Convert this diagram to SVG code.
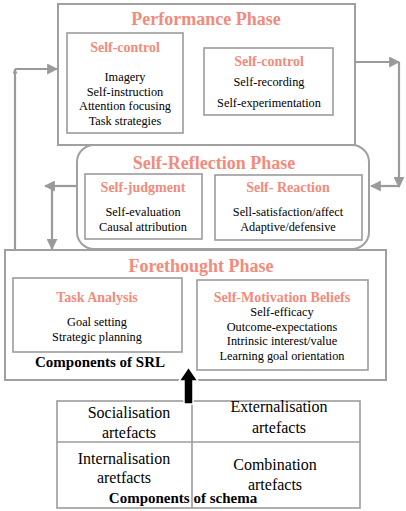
<svg xmlns="http://www.w3.org/2000/svg" width="406" height="511" viewBox="0 0 406 511">
<defs>
<style>
.box{fill:none;stroke:#9c9c9c;stroke-width:1.6}
.frame{fill:#fff;stroke:#a0a0a0;stroke-width:2}
.conn{fill:none;stroke:#9a9a9a;stroke-width:2.2}
.t{font-family:"Liberation Serif","Times New Roman",serif;text-anchor:middle}
.ph{font-size:18px;font-weight:bold;fill:#f28b7b}
.sub{font-size:14px;font-weight:bold;fill:#f28b7b}
.body{font-size:12.3px;fill:#000}
.tab{font-size:16px;fill:#000}
.lab{font-size:15px;font-weight:bold;fill:#000}
</style>
<marker id="ah" viewBox="0 0 10 10" refX="9" refY="5" markerWidth="5" markerHeight="5" orient="auto" markerUnits="userSpaceOnUse">
<path d="M0,0 L10,5 L0,10 z" fill="#9a9a9a"/>
</marker>
<marker id="ahg" viewBox="0 0 10 10" refX="9" refY="5" markerWidth="11" markerHeight="11" orient="auto" markerUnits="userSpaceOnUse">
<path d="M0,0 L10,5 L0,10 z" fill="#9a9a9a"/>
</marker>
</defs>
<rect width="406" height="511" fill="#fff"/>

<g id="forethought">
<rect class="frame" x="5" y="250" width="381" height="130"/>
<text class="t ph" x="201" y="272">Forethought Phase</text>
<rect class="box" x="13" y="278" width="169" height="74"/>
<text class="t sub" x="97" y="302">Task Analysis</text>
<text class="t body" x="97" y="326">Goal setting</text>
<text class="t body" x="97" y="340.5">Strategic planning</text>
<rect class="box" x="197" y="280" width="171" height="90"/>
<text class="t sub" x="282" y="302">Self-Motivation Beliefs</text>
<text class="t body" x="282" y="316">Self-efficacy</text>
<text class="t body" x="282" y="330.5">Outcome-expectations</text>
<text class="t body" x="282" y="345">Intrinsic interest/value</text>
<text class="t body" x="282" y="359.5">Learning goal orientation</text>
<text class="t lab" x="100" y="367">Components of SRL</text>
</g>

<g id="performance">
<rect class="frame" x="58" y="4" width="297" height="141"/>
<text class="t ph" x="206" y="25">Performance Phase</text>
<rect class="box" x="67" y="33" width="116" height="100"/>
<text class="t sub" x="125" y="52">Self-control</text>
<text class="t body" x="125" y="81">Imagery</text>
<text class="t body" x="125" y="95.5">Self-instruction</text>
<text class="t body" x="125" y="110">Attention focusing</text>
<text class="t body" x="125" y="124.5">Task strategies</text>
<rect class="box" x="204" y="48" width="129" height="67"/>
<text class="t sub" x="269" y="66">Self-control</text>
<text class="t body" x="269" y="85.5">Self-recording</text>
<text class="t body" x="269" y="107">Self-experimentation</text>
</g>

<g id="reflection">
<rect class="frame" x="77" y="145" width="292" height="104" rx="17" ry="17"/>
<text class="t ph" x="214" y="169">Self-Reflection Phase</text>
<rect class="box" x="85" y="174" width="117" height="65"/>
<text class="t sub" x="143" y="192">Self-judgment</text>
<text class="t body" x="143" y="216">Self-evaluation</text>
<text class="t body" x="143" y="231">Causal attribution</text>
<rect class="box" x="215" y="175" width="147" height="65"/>
<text class="t sub" x="288" y="192">Self- Reaction</text>
<text class="t body" x="288" y="216">Sell-satisfaction/affect</text>
<text class="t body" x="288" y="231">Adaptive/defensive</text>
</g>

<g id="schema">
<rect class="box" x="57" y="401" width="303" height="107"/>
<line class="box" x1="192" y1="401" x2="192" y2="508"/>
<line class="box" x1="57" y1="442" x2="360" y2="442"/>
<text class="t tab" x="129" y="418">Socialisation</text>
<text class="t tab" x="129" y="438">artefacts</text>
<text class="t tab" x="279" y="412">Externalisation</text>
<text class="t tab" x="279" y="433">artefacts</text>
<text class="t tab" x="124" y="464">Internalisation</text>
<text class="t tab" x="124" y="483">aretfacts</text>
<text class="t tab" x="275" y="470">Combination</text>
<text class="t tab" x="275" y="490">artefacts</text>
<text class="t lab" x="183" y="503">Components of schema</text>
</g>

<g id="connectors">
<path class="conn" d="M15,250 V69" marker-end="url(#ah)"/>
<path class="conn" d="M15,69 H57" marker-end="url(#ahg)"/>
<path class="conn" d="M355,62 H399" marker-end="url(#ahg)"/>
<path class="conn" d="M399,62 V187" marker-end="url(#ahg)"/>
<path class="conn" d="M399,186 H371" marker-end="url(#ahg)"/>
<path class="conn" d="M77,186 H45" marker-end="url(#ahg)"/>
<path class="conn" d="M52,186 V249" marker-end="url(#ahg)"/>
<path d="M184,404 V381 H179 L188.5,367 L198,381 H193 V404 Z" fill="#000" stroke="#fff" stroke-width="1.5"/>
</g>
</svg>
